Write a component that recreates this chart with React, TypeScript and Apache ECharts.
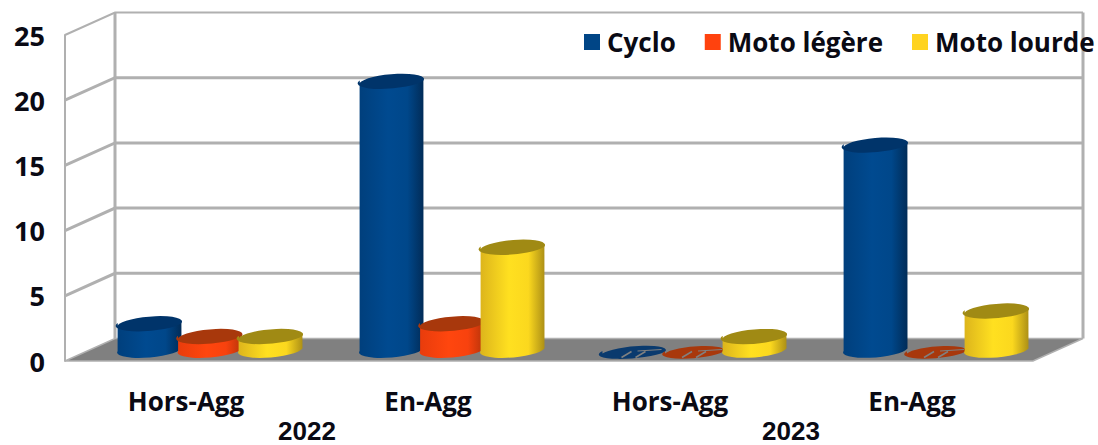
import React, { useEffect, useRef } from "react";
import * as echarts from "echarts";

const categories = ["Hors-Agg", "En-Agg", "Hors-Agg", "En-Agg"];
const years = ["2022", "2023"];
const ticks = [0, 5, 10, 15, 20, 25];
const cyclo = [2, 21, 0, 16];
const motoLegere = [1, 2, 0, 0];
const motoLourde = [1, 8, 1, 3];

const FONT = "Open Sans";
const GRID_LINE = "#b0b0b0";
const DX = 50;
const DY = -22.5;

const palette = [
  { name: "Cyclo", data: cyclo, legend: "#004586", top: "#00346a", blot: "#0a3a6e",
    stops: ["#003f7c", "#004a90", "#00478a", "#012c58"] },
  { name: "Moto légère", data: motoLegere, legend: "#ff420e", top: "#a8380c", blot: "#a8380c",
    stops: ["#e83c0c", "#ff460e", "#f8420e", "#b8340a"] },
  { name: "Moto lourde", data: motoLourde, legend: "#ffd320", top: "#a08a14", blot: "#a08a14",
    stops: ["#dcb41c", "#ffe020", "#fbd81e", "#ad9016"] },
];

const RX = 32;
const RY = 7.5;
const ROT = -4.5;
const SPACING_RATIO = 0.25;

function renderFrame(_p: any, api: any) {
  const v = api.value(0);
  const [fx, fy] = api.coord([0, v]);
  const x0 = fx - api.size([1, 0])[0] / 2;
  const xEnd = x0 + api.size([1, 0])[0] * 4;
  const children: any[] = [];
  if (v === 0) {
    const top = api.coord([0, 25])[1];
    children.push({
      type: "polygon",
      shape: { points: [[x0, fy], [x0 + DX, fy + DY], [xEnd + DX, fy + DY], [xEnd, fy]] },
      style: { fill: "#808080", stroke: GRID_LINE, lineWidth: 1.5 },
    });
    children.push({
      type: "line",
      shape: { x1: x0 + DX, y1: top + DY, x2: x0 + DX, y2: fy + DY },
      style: { stroke: GRID_LINE, lineWidth: 3 },
    });
    children.push({
      type: "line",
      shape: { x1: xEnd + DX, y1: top + DY, x2: xEnd + DX, y2: fy + DY },
      style: { stroke: GRID_LINE, lineWidth: 3 },
    });
  }
  if (v !== 0) {
    children.push({
      type: "polyline",
      shape: { points: [[x0, fy], [x0 + DX, fy + DY], [xEnd + DX, fy + DY]] },
      style: { fill: "none", stroke: GRID_LINE, lineWidth: v === 25 ? 2 : 3 },
    });
  }
  return { type: "group", children };
}

function makeCylinder(seriesIdx: number) {
  const p = palette[seriesIdx];
  return (_params: any, api: any) => {
    const cat = api.value(0);
    const val = api.value(1);
    const band = api.size([1, 0])[0];
    const [bx, by] = api.coord([cat, 0]);
    const [, ty] = api.coord([cat, val]);
    const cx = bx + (seriesIdx - 1) * band * SPACING_RATIO;
    const rad = (ROT * Math.PI) / 180;
    const ex = RX * Math.cos(rad);
    const ey = RX * Math.sin(rad);
    if (val === 0) {
      const cy = by + 3;
      const rx = seriesIdx === 0 ? 31 : 29;
      return {
        type: "group",
        children: [
          {
            type: "path",
            shape: {
              pathData: `M${cx - rx} ${cy + 2}A${rx} 6 ${ROT} 0 1 ${cx + rx} ${cy - 2}A${rx} 6 ${ROT} 0 1 ${cx - rx} ${cy + 2}Z`,
            },
            style: { fill: p.blot },
          },
          {
            type: "line",
            shape: { x1: cx - 12, y1: cy + 6, x2: cx - 2, y2: cy },
            style: { stroke: "#808080", lineWidth: 1.5 },
          },
          {
            type: "line",
            shape: { x1: cx + 2, y1: cy + 6, x2: cx + 12, y2: cy },
            style: { stroke: "#808080", lineWidth: 1.5 },
          },
          {
            type: "line",
            shape: { x1: cx + 4, y1: cy - 0.5, x2: cx + 28, y2: cy - 2 },
            style: { stroke: "#808080", lineWidth: 1 },
          },
        ],
      };
    }
    const lx = cx - ex;
    const rx = cx + ex;
    const body =
      `M${lx} ${ty - ey}L${lx} ${by - ey}` +
      `A${RX} ${RY} ${ROT} 0 0 ${rx} ${by + ey}` +
      `L${rx} ${ty + ey}` +
      `A${RX} ${RY} ${ROT} 0 1 ${lx} ${ty - ey}Z`;
    const cap =
      `M${lx} ${ty - ey}A${RX} ${RY} ${ROT} 0 1 ${rx} ${ty + ey}` +
      `A${RX} ${RY} ${ROT} 0 1 ${lx} ${ty - ey}Z`;
    return {
      type: "group",
      children: [
        {
          type: "path",
          shape: { pathData: body },
          style: {
            fill: {
              type: "linear", x: 0, y: 0, x2: 1, y2: 0,
              colorStops: [
                { offset: 0, color: p.stops[0] },
                { offset: 0.45, color: p.stops[1] },
                { offset: 0.75, color: p.stops[2] },
                { offset: 1, color: p.stops[3] },
              ],
            },
          },
        },
        { type: "path", shape: { pathData: cap }, style: { fill: p.top } },
      ],
    };
  };
}

export default function App() {
  const ref = useRef<HTMLDivElement>(null);
  useEffect(() => {
    const chart = echarts.init(ref.current!, null, { renderer: "svg" });
    const labelStyle = { fontFamily: FONT, fontWeight: "bold" as const, fontSize: 26, color: "#0a0a14" };
    chart.setOption({
      animation: false,
      backgroundColor: "#ffffff",
      grid: [
        { left: 65, right: 65, top: 35, bottom: 84 },
        { left: 89, width: 968, top: 29.5, height: 319 },
      ],
      legend: {
        left: 579,
        top: 24,
        width: 700,
        padding: 5,
        itemWidth: 16,
        itemHeight: 16,
        itemGap: 29,
        icon: "rect",
        data: palette.map((p) => p.name),
        textStyle: { ...labelStyle, padding: [0, 0, 0, 2] },
      },
      xAxis: [
        {
          type: "category",
          gridIndex: 0,
          data: categories,
          position: "bottom",
          axisLine: { show: false },
          axisTick: { show: false },
          axisLabel: { ...labelStyle, margin: 27, interval: 0 },
        },
        {
          type: "category",
          gridIndex: 0,
          data: years,
          position: "bottom",
          axisLine: { show: false },
          axisTick: { show: false },
          axisLabel: { ...labelStyle, fontFamily: "Liberation Sans", fontSize: 26, lineHeight: 20, margin: 60 },
        },
        {
          type: "category",
          gridIndex: 1,
          data: categories,
          show: false,
        },
      ],
      yAxis: [
        {
          type: "value",
          gridIndex: 0,
          min: 0,
          max: 25,
          interval: 5,
          axisLine: { show: true, lineStyle: { color: GRID_LINE, width: 2 } },
          axisTick: { show: false },
          splitLine: { show: false },
          axisLabel: { ...labelStyle, fontSize: 27, margin: 20, padding: [8, 0, 0, 0] },
        },
        { type: "value", gridIndex: 1, min: 0, max: 25, show: false, splitLine: { show: false } },
      ],
      series: [
        {
          type: "custom",
          name: "frame",
          xAxisIndex: 0,
          yAxisIndex: 0,
          silent: true,
          clip: false,
          renderItem: renderFrame,
          encode: { y: 0 },
          data: ticks.map((t) => [t]),
          z: 1,
        },
        ...palette.map((p, i) => ({
          type: "custom",
          name: p.name,
          xAxisIndex: 2,
          yAxisIndex: 1,
          clip: false,
          color: p.legend,
          itemStyle: { color: p.legend },
          renderItem: makeCylinder(i),
          encode: { x: 0, y: 1 },
          data: p.data.map((v, c) => [c, v]),
          z: 3 + i,
        })),
      ],
    });
    return () => chart.dispose();
  }, []);
  return <div ref={ref} style={{ position: "fixed", left: 0, top: 0, width: 1098, height: 445 }} />;
}
